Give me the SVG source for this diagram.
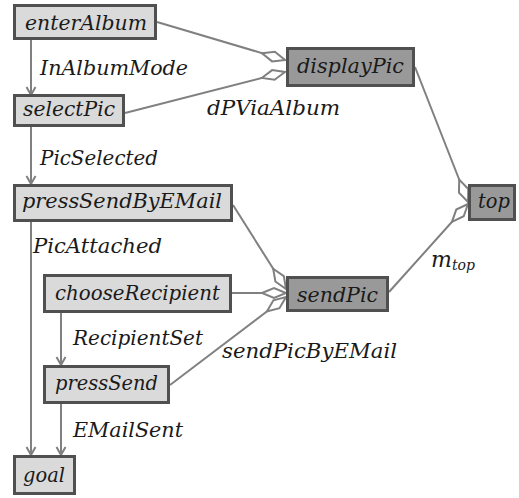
<svg xmlns="http://www.w3.org/2000/svg" width="519" height="498" viewBox="0 0 519 498">
<defs>
<style>
.lt{fill:#dadada;stroke:#505050;stroke-width:3}
.dk{fill:#999999;stroke:#505050;stroke-width:3}
.c{fill:none;stroke:#808080;stroke-width:2}
</style>
<marker id="arr" markerUnits="userSpaceOnUse" markerWidth="12" markerHeight="12" refX="10" refY="6" orient="auto" overflow="visible">
<path d="M2,1.5 L10,6 L2,10.5" fill="none" stroke="#808080" stroke-width="2"/>
</marker>
<marker id="dia" markerUnits="userSpaceOnUse" markerWidth="26" markerHeight="12" refX="24" refY="6" orient="auto" overflow="visible">
<path d="M0,6 L12,1 L24,6 L12,11 Z" fill="#ffffff" stroke="#808080" stroke-width="2"/>
</marker>
</defs>
<rect width="519" height="498" fill="#ffffff"/>
<g font-family="DejaVu Serif, Liberation Serif, serif" font-style="italic" font-size="20" fill="#1a1a1a">
<g id="connectors">
<line class="c" x1="31" y1="40" x2="31" y2="95" marker-end="url(#arr)"/>
<line class="c" x1="31" y1="126" x2="31" y2="184" marker-end="url(#arr)"/>
<line class="c" x1="31" y1="222" x2="31" y2="455" marker-end="url(#arr)"/>
<line class="c" x1="61" y1="313" x2="61" y2="365" marker-end="url(#arr)"/>
<line class="c" x1="61" y1="404" x2="61" y2="455" marker-end="url(#arr)"/>
<line class="c" x1="157" y1="22" x2="285" y2="60" marker-end="url(#dia)"/>
<line class="c" x1="125" y1="113" x2="285" y2="72" marker-end="url(#dia)"/>
<line class="c" x1="415" y1="67" x2="468" y2="202" marker-end="url(#dia)"/>
<line class="c" x1="389" y1="292" x2="468" y2="204" marker-end="url(#dia)"/>
<line class="c" x1="233" y1="205" x2="286" y2="289" marker-end="url(#dia)"/>
<line class="c" x1="232" y1="293" x2="286" y2="293" marker-end="url(#dia)"/>
<line class="c" x1="170" y1="385" x2="286" y2="297" marker-end="url(#dia)"/>
<text x="40" y="75" textLength="148" lengthAdjust="spacingAndGlyphs">InAlbumMode</text>
<text x="207" y="115" textLength="133" lengthAdjust="spacingAndGlyphs">dPViaAlbum</text>
<text x="40" y="165" textLength="118" lengthAdjust="spacingAndGlyphs">PicSelected</text>
<text x="33" y="253" textLength="129" lengthAdjust="spacingAndGlyphs">PicAttached</text>
<text x="73" y="345" textLength="130" lengthAdjust="spacingAndGlyphs">RecipientSet</text>
<text x="73" y="437" textLength="110" lengthAdjust="spacingAndGlyphs">EMailSent</text>
<text x="222" y="358" textLength="175" lengthAdjust="spacingAndGlyphs">sendPicByEMail</text>
<text x="431" y="267" font-size="22">m<tspan font-size="14" dy="3">top</tspan></text>
</g>
<g id="enterAlbum"><rect class="lt" x="14.5" y="5.5" width="141" height="33"/><text x="25" y="30" textLength="122" lengthAdjust="spacingAndGlyphs">enterAlbum</text></g>
<g id="selectPic"><rect class="lt" x="14.5" y="95.5" width="109" height="30"/><text x="23" y="116" textLength="92" lengthAdjust="spacingAndGlyphs">selectPic</text></g>
<g id="pressSendByEMail"><rect class="lt" x="14.5" y="185.5" width="217" height="35"/><text x="22" y="208" textLength="200" lengthAdjust="spacingAndGlyphs">pressSendByEMail</text></g>
<g id="chooseRecipient"><rect class="lt" x="44.5" y="275.5" width="186" height="36"/><text x="55" y="300" textLength="165" lengthAdjust="spacingAndGlyphs">chooseRecipient</text></g>
<g id="pressSend"><rect class="lt" x="44.5" y="366.5" width="124" height="36"/><text x="55" y="390" textLength="103" lengthAdjust="spacingAndGlyphs">pressSend</text></g>
<g id="goal"><rect class="lt" x="14.5" y="456.5" width="60" height="37"/><text x="23" y="482" textLength="42" lengthAdjust="spacingAndGlyphs">goal</text></g>
<g id="displayPic"><rect class="dk" x="287.5" y="48.5" width="126" height="37"/><text x="297" y="73" textLength="107" lengthAdjust="spacingAndGlyphs">displayPic</text></g>
<g id="top"><rect class="dk" x="469.5" y="185.5" width="45" height="34"/><text x="478" y="208" textLength="32" lengthAdjust="spacingAndGlyphs">top</text></g>
<g id="sendPic"><rect class="dk" x="287.5" y="277.5" width="100" height="33"/><text x="297" y="302" textLength="81" lengthAdjust="spacingAndGlyphs">sendPic</text></g>
</g>
</svg>
